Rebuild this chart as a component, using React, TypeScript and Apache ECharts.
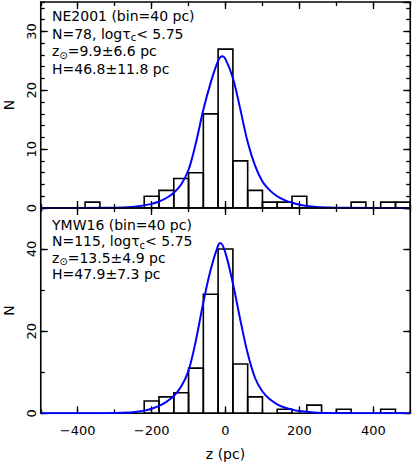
import React, { useEffect, useRef } from 'react';
import * as echarts from 'echarts';

const FONT = '"DejaVu Sans", "Liberation Sans", sans-serif';

const BIN_WIDTH = 40;
const X_MIN = -500;
const X_MAX = 500;
const xMajorTicks = [-400, -200, 0, 200, 400];
const topYMax = 35;
const bottomYMax = 50;

// NE2001 histogram (bin centres, counts)
const ne2001Centers = [-360, -200, -160, -120, -80, -40, 0, 40, 80, 120, 160, 200, 360, 440, 480];
const ne2001Counts = [1, 2, 3, 5, 6, 16, 27, 8, 3, 1, 1, 2, 1, 1, 1];

// YMW16 histogram (bin centres, counts)
const ymw16Centers = [-200, -160, -120, -80, -40, 0, 40, 80, 160, 240, 320, 440];
const ymw16Counts = [3, 4, 5, 11, 29, 40, 12, 4, 1, 2, 1, 1];

// fitted curves
const ne2001FitZ = [-500, -320, -280, -240, -200, -180, -160, -140, -120, -100, -80, -60, -40, -20, -9, 0, 20, 40, 60, 80, 100, 120, 140, 160, 180, 200, 240, 280, 320, 500];
const ne2001FitN = [0, 0.03, 0.08, 0.25, 0.7, 1.1, 1.7, 2.6, 4.0, 6.5, 11.1, 16.7, 21.3, 25.0, 25.8, 25.3, 22.1, 16.8, 11.2, 7.2, 4.5, 3.0, 2.0, 1.35, 0.9, 0.55, 0.2, 0.07, 0.03, 0];

const ymw16FitZ = [-500, -340, -300, -260, -240, -220, -200, -180, -160, -140, -120, -100, -80, -60, -40, -20, -13.5, 0, 20, 40, 60, 80, 100, 120, 140, 160, 180, 200, 240, 280, 320, 500];
const ymw16FitN = [0, 0.03, 0.07, 0.22, 0.38, 0.65, 1.1, 1.8, 2.8, 4.2, 6.5, 10.4, 17.8, 27.0, 35.0, 40.9, 41.5, 39.0, 31.6, 22.8, 14.6, 8.6, 5.3, 3.4, 2.2, 1.4, 0.9, 0.55, 0.22, 0.08, 0.03, 0];

const topLines = ['NE2001 (bin=40 pc)', 'N=78, log\u03c4{sub|c}< 5.75', 'z{sub|\u2299}=9.9\u00b16.6 pc', 'H=46.8\u00b111.8 pc'];
const topLineY = [16, 33.5, 51, 69];
const bottomLines = ['YMW16 (bin=40 pc)', 'N=115, log\u03c4{sub|c}< 5.75', 'z{sub|\u2299}=13.5\u00b14.9 pc', 'H=47.9\u00b17.3 pc'];
const bottomLineY = [225, 241, 257.5, 273.5];

const yAxisTitle = 'N';
const yTitleCenters = [105, 310.5];

const fmtX = (v: number) => (v < 0 ? '\u2212' + Math.abs(v) : String(v));

const tick = (len: number, custom?: number[]) => ({
  inside: true,
  length: len,
  lineStyle: { color: '#000', width: 1.3 },
  ...(custom ? { customValues: custom } : {}),
});

function makeXAxes(gridIndex: number, withLabels: boolean) {
  const base = {
    type: 'value',
    gridIndex,
    min: X_MIN,
    max: X_MAX,
    interval: 100,
    axisLine: { show: false, onZero: false },
    splitLine: { show: false },
  };
  return [
    { ...base, position: 'bottom', axisTick: tick(4), axisLabel: { show: false } },
    {
      ...base,
      position: 'bottom',
      axisTick: tick(7, xMajorTicks),
      axisLabel: withLabels
        ? {
            show: true,
            customValues: xMajorTicks,
            margin: 11,
            fontFamily: FONT,
            fontSize: 13,
            color: '#000',
            formatter: (v: number) => (v % 200 === 0 && Math.abs(v) < 500 ? fmtX(v) : ''),
          }
        : { show: false },
      name: withLabels ? 'z (pc)' : '',
      nameLocation: 'middle',
      nameGap: 34,
      nameTextStyle: { fontFamily: FONT, fontSize: 14, color: '#000' },
    },
    { ...base, position: 'top', axisTick: tick(4), axisLabel: { show: false } },
    { ...base, position: 'top', axisTick: tick(7, xMajorTicks), axisLabel: { show: false } },
  ];
}

function makeYAxes(gridIndex: number, max: number, minorInt: number, majorInt: number) {
  const base = {
    type: 'value',
    gridIndex,
    min: 0,
    max,
    axisLine: { show: false, onZero: false },
    splitLine: { show: false },
  };
  return [
    {
      ...base,
      position: 'left',
      interval: majorInt,
      axisTick: tick(7),
      axisLabel: {
        rotate: 90,
        margin: 3,
        showMaxLabel: false,
        fontFamily: FONT,
        fontSize: 13,
        color: '#000',
        formatter: (v: number) => (v === max ? '' : String(v)),
      },
    },
    { ...base, position: 'left', interval: minorInt, axisTick: tick(4), axisLabel: { show: false } },
    { ...base, position: 'right', interval: majorInt, axisTick: tick(7), axisLabel: { show: false } },
    { ...base, position: 'right', interval: minorInt, axisTick: tick(4), axisLabel: { show: false } },
  ];
}

const histRender = (params: any, api: any) => {
  const c = api.value(0);
  const n = api.value(1);
  const p0 = api.coord([c - BIN_WIDTH / 2, n]);
  const p1 = api.coord([c + BIN_WIDTH / 2, 0]);
  return {
    type: 'rect',
    shape: { x: p0[0], y: p0[1], width: p1[0] - p0[0], height: p1[1] - p0[1] },
    style: { fill: 'none', stroke: '#000', lineWidth: 1.6 },
  };
};

const rich = {
  sub: { fontFamily: FONT, fontSize: 10, fill: '#000', verticalAlign: 'bottom', lineHeight: 10 },
};

function textLines(lines: string[], ys: number[]) {
  return lines.map((t, i) => ({
    type: 'text',
    left: 52,
    top: ys[i] - 9,
    style: {
      text: t,
      fontFamily: FONT,
      fontSize: 14,
      fill: '#000',
      lineHeight: 18,
      rich,
    },
    z: 10,
  }));
}

const yTitles = yTitleCenters.map((cy) => ({
  type: 'text',
  x: 8.5,
  y: cy,
  rotation: Math.PI / 2,
  style: {
    text: yAxisTitle,
    fontFamily: FONT,
    fontSize: 14,
    fill: '#000',
    textAlign: 'center',
    textVerticalAlign: 'middle',
    verticalAlign: 'middle',
  },
  z: 10,
}));

export default function App() {
  const ref = useRef<HTMLDivElement>(null);
  useEffect(() => {
    if (!ref.current) return;
    const chart = echarts.init(ref.current, undefined, { renderer: 'svg' });
    const gridBase = {
      left: 40.75,
      width: 369.5,
      show: true,
      borderColor: '#000',
      borderWidth: 1.6,
      backgroundColor: 'transparent',
    };
    chart.setOption({
      animation: false,
      backgroundColor: '#fff',
      grid: [
        { ...gridBase, top: 2, height: 206, z: 0 },
        { ...gridBase, top: 208, height: 205.3, z: 4 },
      ],
      xAxis: [...makeXAxes(0, false), ...makeXAxes(1, true)],
      yAxis: [...makeYAxes(0, topYMax, 2, 10), ...makeYAxes(1, bottomYMax, 10, 20)],
      series: [
        {
          type: 'custom',
          xAxisIndex: 0,
          yAxisIndex: 0,
          renderItem: histRender,
          data: ne2001Centers.map((c, i) => [c, ne2001Counts[i]]),
          encode: { x: 0, y: 1 },
          clip: true,
          z: 2,
        },
        {
          type: 'line',
          xAxisIndex: 0,
          yAxisIndex: 0,
          data: ne2001FitZ.map((z, i) => [z, ne2001FitN[i]]),
          smooth: 0.35,
          showSymbol: false,
          symbol: 'none',
          lineStyle: { color: '#0000ff', width: 2 },
          clip: true,
          z: 3,
        },
        {
          type: 'custom',
          xAxisIndex: 4,
          yAxisIndex: 4,
          renderItem: histRender,
          data: ymw16Centers.map((c, i) => [c, ymw16Counts[i]]),
          encode: { x: 0, y: 1 },
          clip: true,
          z: 5,
        },
        {
          type: 'line',
          xAxisIndex: 4,
          yAxisIndex: 4,
          data: ymw16FitZ.map((z, i) => [z, ymw16FitN[i]]),
          smooth: 0.35,
          showSymbol: false,
          symbol: 'none',
          lineStyle: { color: '#0000ff', width: 2 },
          clip: true,
          z: 6,
        },
      ],
      graphic: [...textLines(topLines, topLineY), ...textLines(bottomLines, bottomLineY), ...yTitles],
    });
    return () => chart.dispose();
  }, []);
  return <div ref={ref} style={{ position: 'fixed', left: 0, top: 0, width: 412, height: 463 }} />;
}
